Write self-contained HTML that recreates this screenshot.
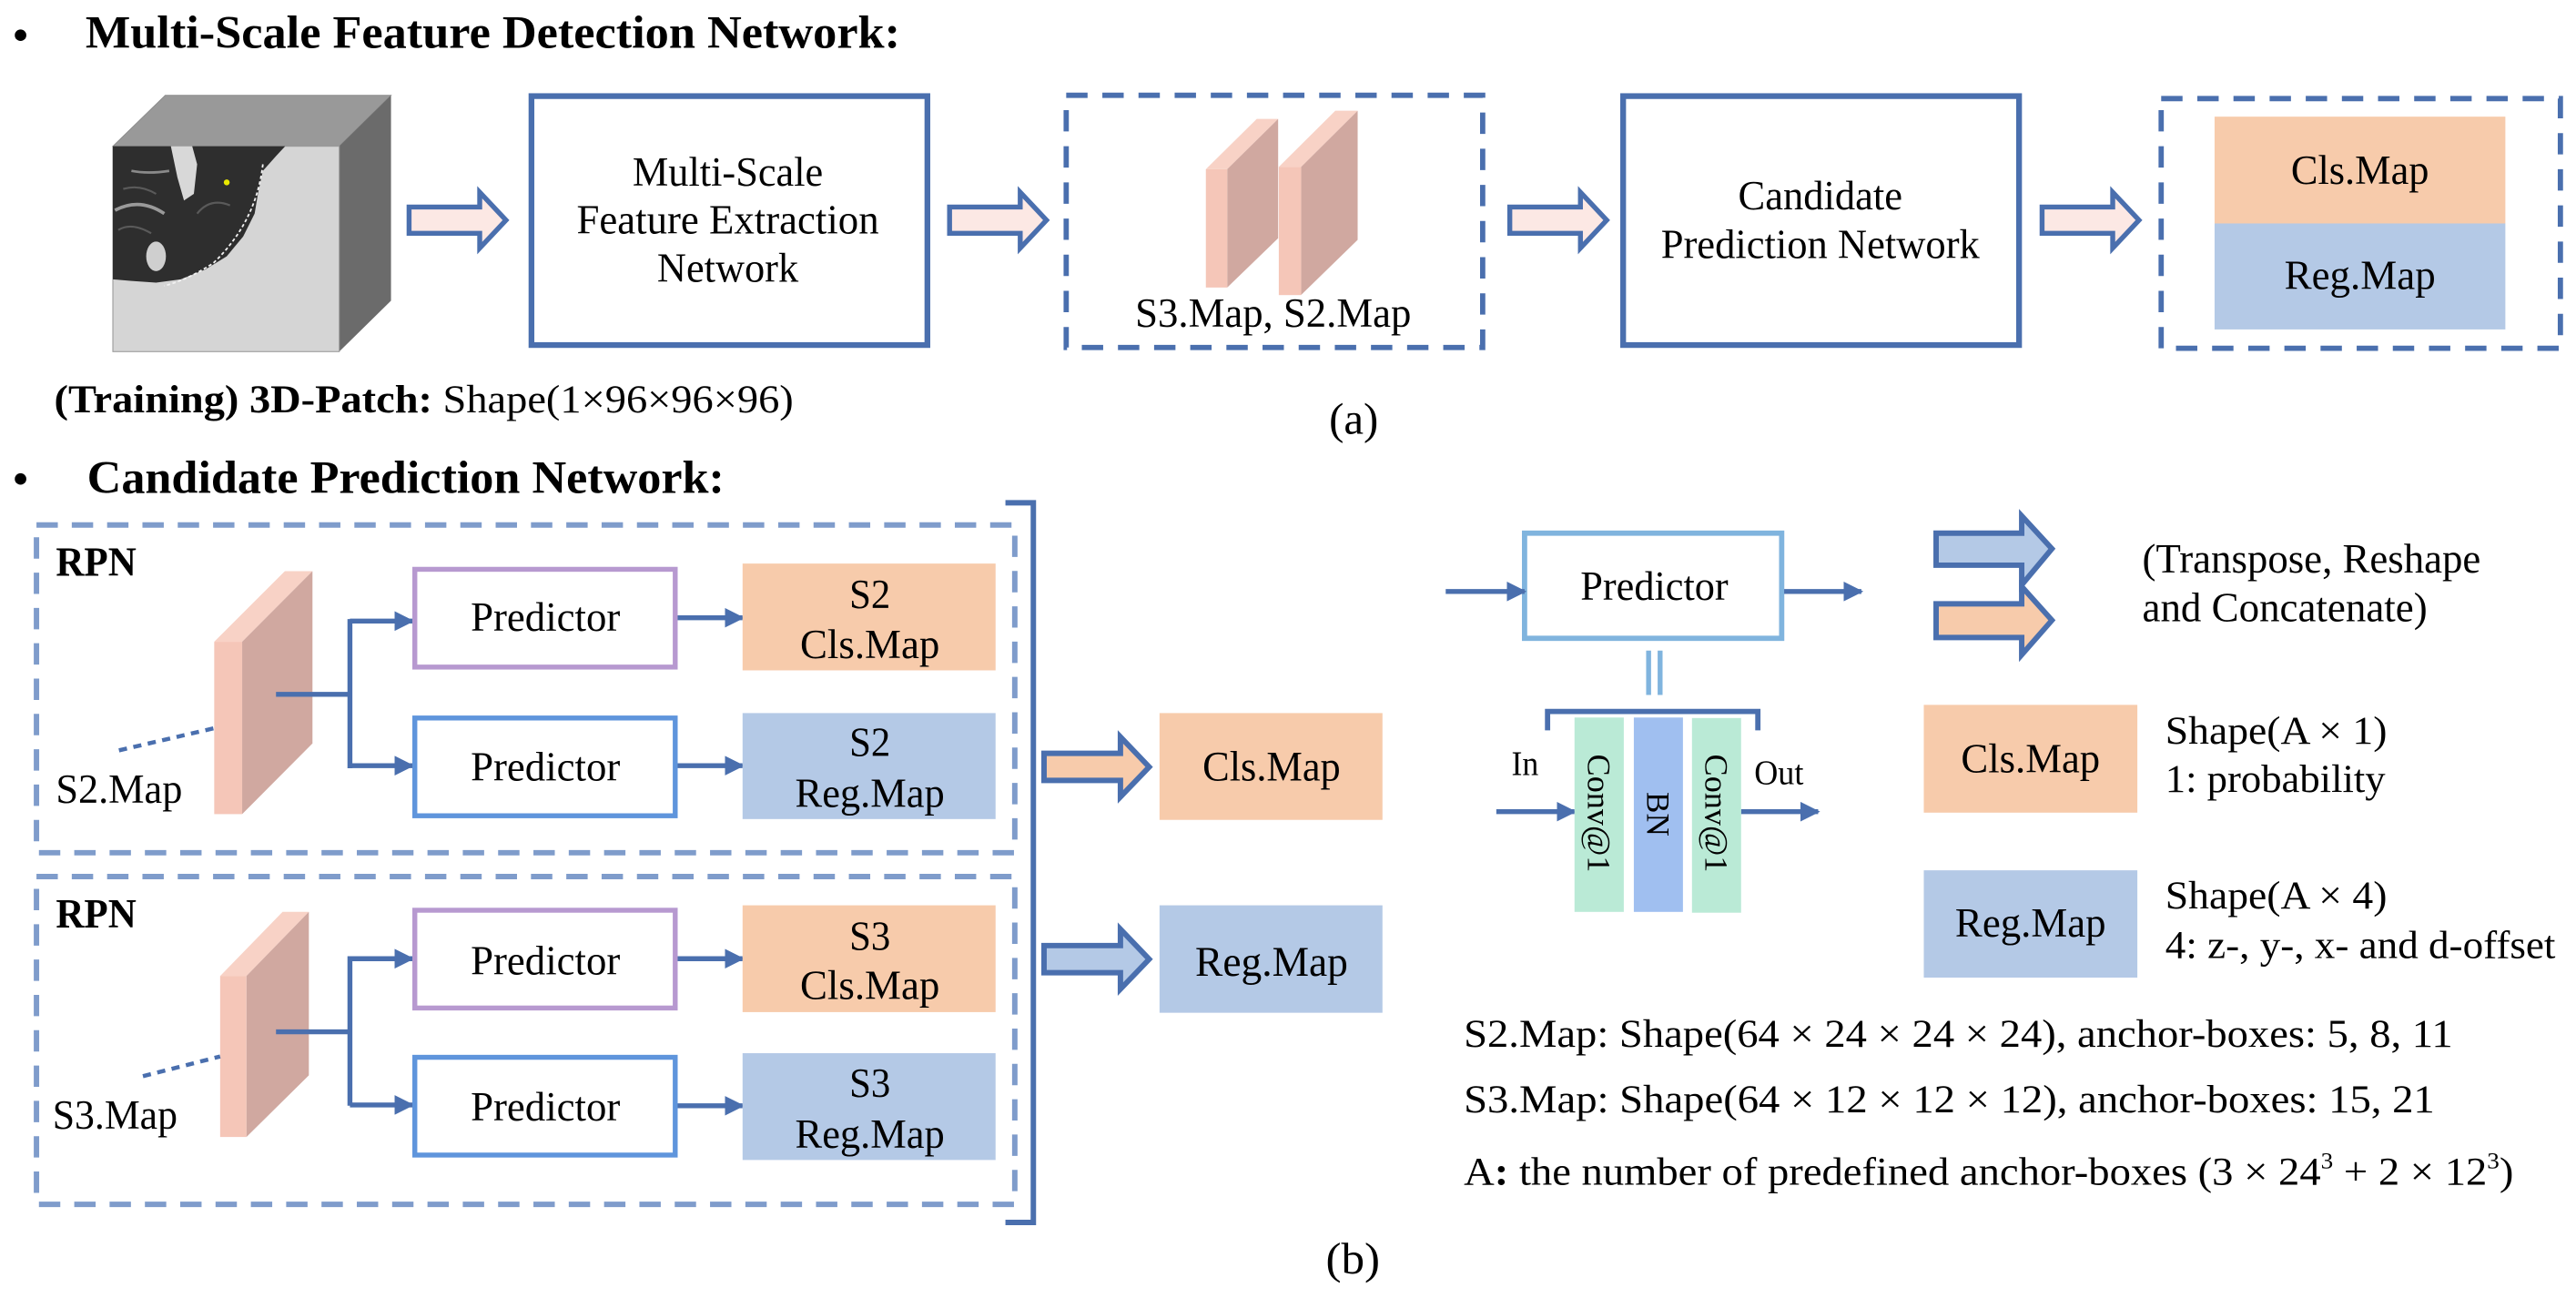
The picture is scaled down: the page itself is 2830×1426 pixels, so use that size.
<!DOCTYPE html>
<html><head><meta charset="utf-8"><style>
html,body{margin:0;padding:0;background:#fff;}
svg{display:block;}
svg, svg text{font-family:"Liberation Serif","Times New Roman",serif;}
.b{font-weight:bold;}
</style></head><body>
<svg width="2830" height="1426" viewBox="0 0 1568 790" preserveAspectRatio="none" xmlns="http://www.w3.org/2000/svg" font-family="'Liberation Serif', 'Times New Roman', serif">
<defs>
<marker id="ah" markerWidth="4" markerHeight="4" refX="3.6" refY="2" orient="auto" markerUnits="strokeWidth">
<path d="M0,0 L4,2 L0,4 z" fill="#4a6fae"/></marker>
</defs>
<g font-family="'Liberation Serif', 'Times New Roman', serif" fill="#000">

<!-- ===== (a) ===== -->
<text x="8" y="30" font-size="26" class="b">•</text>
<text x="52" y="29" font-size="28" class="b" textLength="496" lengthAdjust="spacingAndGlyphs">Multi-Scale Feature Detection Network:</text>

<!-- cube -->
<polygon points="68.7,89 100.6,58 238,58 206.5,89" fill="#999999" stroke="#8a8a8a" stroke-width="0.5"/>
<polygon points="206.5,89 238,58 238,183 206.5,214" fill="#6b6b6b"/>
<rect x="68.7" y="89" width="137.8" height="125" fill="#d5d5d5" stroke="#9a9a9a" stroke-width="0.6"/>
<path d="M68.7,89 L173.6,89 L168,95 L160,104 L157,118 L155,130 L148,144 L138,156 L125,164 L110,170 L95,172 L80,171 L68.7,170 Z" fill="#2e2e2e"/>
<path d="M104,89 L117,89 L120,100 L118,118 L112,122 L108,108 Z" fill="#d8d8d8"/>
<ellipse cx="95" cy="156" rx="6" ry="9" fill="#cfcfcf"/>
<path d="M70,128 Q85,120 100,130" stroke="#9a9a9a" stroke-width="2" fill="none"/>
<path d="M80,104 Q90,106 103,104" stroke="#8a8a8a" stroke-width="1.5" fill="none"/>
<path d="M72,140 Q80,135 92,142 M120,130 Q128,120 140,125 M75,115 Q85,112 95,118" stroke="#5a5a5a" stroke-width="1.2" fill="none"/>
<path d="M160,100 Q156,135 130,160 Q115,170 100,174" stroke="#f2f2f2" stroke-width="1" fill="none" stroke-dasharray="2 1.5"/>
<circle cx="138" cy="111" r="1.8" fill="#e8e800"/>

<g stroke="#4a6fae" stroke-width="3" fill="#fce8e4" stroke-linejoin="miter">
<polygon points="249,126 292,126 292,117 308,134 292,151 292,142 249,142"/>
<polygon points="578,126 621,126 621,117 637,134 621,151 621,142 578,142"/>
<polygon points="919,126 962,126 962,117 978,134 962,151 962,142 919,142"/>
<polygon points="1243,126 1286,126 1286,117 1302,134 1286,151 1286,142 1243,142"/>
</g>

<rect x="323.5" y="58.5" width="241" height="151.5" fill="#fff" stroke="#4a6fae" stroke-width="3.5"/>
<text x="443" y="113" font-size="25" text-anchor="middle" textLength="116" lengthAdjust="spacingAndGlyphs">Multi-Scale</text>
<text x="443" y="142" font-size="25" text-anchor="middle" textLength="184" lengthAdjust="spacingAndGlyphs">Feature Extraction</text>
<text x="443" y="171.5" font-size="25" text-anchor="middle" textLength="86" lengthAdjust="spacingAndGlyphs">Network</text>

<rect x="649" y="58" width="253.5" height="153.5" fill="none" stroke="#4a6fae" stroke-width="3.2" stroke-dasharray="13 9"/>
<polygon points="734,103 747,103 778,72.4 765,72.4" fill="#f8d2c6"/>
<polygon points="747,103 778,72.4 778,145 747,175" fill="#d0a8a0"/>
<rect x="734" y="103" width="13" height="72" fill="#f5c6b8"/>
<polygon points="778.4,101.6 792,101.6 826.4,67.4 812.8,67.4" fill="#f8d2c6"/>
<polygon points="792,101.6 826.4,67.4 826.4,146 792,179.5" fill="#d0a8a0"/>
<rect x="778.4" y="101.6" width="13.6" height="78" fill="#f5c6b8"/>
<text x="775" y="199" font-size="25" text-anchor="middle" textLength="168" lengthAdjust="spacingAndGlyphs">S3.Map, S2.Map</text>

<rect x="988" y="58.5" width="241" height="151.5" fill="#fff" stroke="#4a6fae" stroke-width="3.5"/>
<text x="1108" y="127.5" font-size="25" text-anchor="middle" textLength="100" lengthAdjust="spacingAndGlyphs">Candidate</text>
<text x="1108" y="157" font-size="25" text-anchor="middle" textLength="194" lengthAdjust="spacingAndGlyphs">Prediction Network</text>

<rect x="1315.5" y="60" width="243" height="152" fill="none" stroke="#4a6fae" stroke-width="3.2" stroke-dasharray="13 9"/>
<rect x="1348" y="71" width="177" height="65" fill="#f7cbab"/>
<rect x="1348" y="136" width="177" height="64.5" fill="#b4c9e6"/>
<text x="1436.5" y="112" font-size="25" text-anchor="middle" textLength="84" lengthAdjust="spacingAndGlyphs">Cls.Map</text>
<text x="1436.5" y="176" font-size="25" text-anchor="middle" textLength="92" lengthAdjust="spacingAndGlyphs">Reg.Map</text>

<text x="33" y="251" font-size="24" textLength="450" lengthAdjust="spacingAndGlyphs"><tspan class="b">(Training) 3D-Patch:</tspan> Shape(1×96×96×96)</text>
<text x="824" y="264" font-size="27" text-anchor="middle" textLength="30" lengthAdjust="spacingAndGlyphs">(a)</text>

<!-- ===== (b) ===== -->
<text x="8" y="300" font-size="26" class="b">•</text>
<text x="53" y="300" font-size="28" class="b" textLength="388" lengthAdjust="spacingAndGlyphs">Candidate Prediction Network:</text>

<polyline points="612,306 629,306 629,744 612,744" fill="none" stroke="#4a6fae" stroke-width="3.3"/>

<rect x="22.2" y="319.5" width="595.5" height="199.5" fill="none" stroke="#7f9ccb" stroke-width="3.3" stroke-dasharray="13 8.5"/>
<rect x="22.2" y="533.5" width="595.5" height="199.5" fill="none" stroke="#7f9ccb" stroke-width="3.3" stroke-dasharray="13 8.5"/>

<text x="34" y="350.5" font-size="25" class="b" textLength="49" lengthAdjust="spacingAndGlyphs">RPN</text>
<text x="34" y="564.5" font-size="25" class="b" textLength="49" lengthAdjust="spacingAndGlyphs">RPN</text>

<polygon points="130.4,390.6 147.4,390.6 190.2,347.6 173.4,347.6" fill="#f8d2c6"/>
<polygon points="147.4,390.6 190.2,347.6 190.2,452.5 147.4,495.5" fill="#d0a8a0"/>
<rect x="130.4" y="390.6" width="17" height="104.9" fill="#f5c6b8"/>
<line x1="72.4" y1="456.7" x2="130.4" y2="443.2" stroke="#4a6fae" stroke-width="2.5" stroke-dasharray="5 4"/>
<text x="34" y="488.5" font-size="25" textLength="77" lengthAdjust="spacingAndGlyphs">S2.Map</text>

<polygon points="134,594 150,594 188,555 172,555" fill="#f8d2c6"/>
<polygon points="150,594 188,555 188,654.5 150,692" fill="#d0a8a0"/>
<rect x="134" y="594" width="16" height="98" fill="#f5c6b8"/>
<line x1="87" y1="655" x2="134" y2="643" stroke="#4a6fae" stroke-width="2.5" stroke-dasharray="5 4"/>
<text x="32" y="687" font-size="25" textLength="76" lengthAdjust="spacingAndGlyphs">S3.Map</text>

<g stroke="#4a6fae" stroke-width="3" fill="none">
<polyline points="168,422.6 213,422.6"/>
<polyline points="213,376.8 213,467.6"/>
<line x1="213" y1="378" x2="251" y2="378" marker-end="url(#ah)"/>
<line x1="213" y1="466" x2="251" y2="466" marker-end="url(#ah)"/>
<line x1="412" y1="376" x2="452" y2="376" marker-end="url(#ah)"/>
<line x1="412" y1="466" x2="452" y2="466" marker-end="url(#ah)"/>
<polyline points="168,628 213,628"/>
<polyline points="213,582 213,673"/>
<line x1="213" y1="583.5" x2="251" y2="583.5" marker-end="url(#ah)"/>
<line x1="213" y1="672.5" x2="251" y2="672.5" marker-end="url(#ah)"/>
<line x1="412" y1="583.5" x2="452" y2="583.5" marker-end="url(#ah)"/>
<line x1="412" y1="673" x2="452" y2="673" marker-end="url(#ah)"/>
</g>

<rect x="252.5" y="346.5" width="158.5" height="59.5" fill="#fff" stroke="#b799d0" stroke-width="3"/>
<rect x="252.5" y="437" width="158.5" height="59.5" fill="#fff" stroke="#5f95dc" stroke-width="3"/>
<rect x="252.5" y="554" width="158.5" height="59.5" fill="#fff" stroke="#b799d0" stroke-width="3"/>
<rect x="252.5" y="643.5" width="158.5" height="59.5" fill="#fff" stroke="#5f95dc" stroke-width="3"/>
<text x="332" y="384" font-size="25" text-anchor="middle" textLength="91" lengthAdjust="spacingAndGlyphs">Predictor</text>
<text x="332" y="475" font-size="25" text-anchor="middle" textLength="91" lengthAdjust="spacingAndGlyphs">Predictor</text>
<text x="332" y="593" font-size="25" text-anchor="middle" textLength="91" lengthAdjust="spacingAndGlyphs">Predictor</text>
<text x="332" y="682" font-size="25" text-anchor="middle" textLength="91" lengthAdjust="spacingAndGlyphs">Predictor</text>

<rect x="452" y="343" width="154" height="65" fill="#f7cbab"/>
<rect x="452" y="434" width="154" height="64.5" fill="#b4c9e6"/>
<rect x="452" y="551" width="154" height="65" fill="#f7cbab"/>
<rect x="452" y="641" width="154" height="65" fill="#b4c9e6"/>
<g font-size="25" text-anchor="middle">
<text x="529.5" y="370" textLength="25" lengthAdjust="spacingAndGlyphs">S2</text>
<text x="529.5" y="400.5" textLength="85" lengthAdjust="spacingAndGlyphs">Cls.Map</text>
<text x="529.5" y="460" textLength="25" lengthAdjust="spacingAndGlyphs">S2</text>
<text x="529.5" y="491" textLength="91" lengthAdjust="spacingAndGlyphs">Reg.Map</text>
<text x="529.5" y="578" textLength="25" lengthAdjust="spacingAndGlyphs">S3</text>
<text x="529.5" y="608" textLength="85" lengthAdjust="spacingAndGlyphs">Cls.Map</text>
<text x="529.5" y="667.5" textLength="25" lengthAdjust="spacingAndGlyphs">S3</text>
<text x="529.5" y="698.5" textLength="91" lengthAdjust="spacingAndGlyphs">Reg.Map</text>
</g>

<g stroke="#4a6fae" stroke-width="3.3" stroke-linejoin="miter">
<polygon points="635.5,458.5 682,458.5 682,448.5 699.5,466.8 682,485 682,475 635.5,475" fill="#f7cbab"/>
<polygon points="635.5,575.5 682,575.5 682,565.5 699.5,583.8 682,602 682,592 635.5,592" fill="#b4c9e6"/>
</g>
<rect x="705.8" y="434" width="135.7" height="65" fill="#f7cbab"/>
<rect x="705.8" y="551" width="135.7" height="65.4" fill="#b4c9e6"/>
<text x="774" y="475" font-size="26" text-anchor="middle" textLength="84" lengthAdjust="spacingAndGlyphs">Cls.Map</text>
<text x="774" y="594" font-size="26" text-anchor="middle" textLength="93" lengthAdjust="spacingAndGlyphs">Reg.Map</text>

<text x="823.5" y="775" font-size="27" text-anchor="middle" textLength="33" lengthAdjust="spacingAndGlyphs">(b)</text>

<rect x="928" y="324.5" width="156.5" height="64" fill="#fff" stroke="#80b4de" stroke-width="3.2"/>
<text x="1007" y="365" font-size="25" text-anchor="middle" textLength="90" lengthAdjust="spacingAndGlyphs">Predictor</text>
<g stroke="#4a6fae" stroke-width="3" fill="none">
<line x1="880" y1="360" x2="928" y2="360" marker-end="url(#ah)"/>
<line x1="1086" y1="360" x2="1133" y2="360" marker-end="url(#ah)"/>
<line x1="910.8" y1="494" x2="958.4" y2="494" marker-end="url(#ah)"/>
<line x1="1059.8" y1="494" x2="1106.7" y2="494" marker-end="url(#ah)"/>
<polyline points="942,444.5 942,433 1070,433 1070,444.5" stroke-width="3.2"/>
</g>
<line x1="1003.5" y1="396" x2="1003.5" y2="423" stroke="#80b4de" stroke-width="3"/>
<line x1="1010.5" y1="396" x2="1010.5" y2="423" stroke="#80b4de" stroke-width="3"/>
<rect x="958.4" y="436.7" width="30" height="118.3" fill="#baead6"/>
<rect x="994.5" y="436.7" width="29.9" height="118.3" fill="#a0bff0"/>
<rect x="1029.9" y="437" width="29.9" height="118.5" fill="#baead6"/>
<text font-size="20" text-anchor="middle" transform="translate(966.5,495) rotate(90)" textLength="72" lengthAdjust="spacingAndGlyphs">Conv@1</text>
<text font-size="20" text-anchor="middle" transform="translate(1002.5,495.5) rotate(90)" textLength="27" lengthAdjust="spacingAndGlyphs">BN</text>
<text font-size="20" text-anchor="middle" transform="translate(1038,495) rotate(90)" textLength="72" lengthAdjust="spacingAndGlyphs">Conv@1</text>
<text x="920" y="471.8" font-size="21" textLength="16.5" lengthAdjust="spacingAndGlyphs">In</text>
<text x="1067.8" y="477.3" font-size="21" textLength="30" lengthAdjust="spacingAndGlyphs">Out</text>

<g stroke="#4a6fae" stroke-width="3.3" stroke-linejoin="miter">
<polygon points="1178.5,324.5 1230.6,324.5 1230.6,314 1249,334 1230.6,356 1230.6,344 1178.5,344" fill="#b4c9e6"/>
<polygon points="1178.5,367.5 1230.6,367.5 1230.6,357 1249,377.5 1230.6,398.5 1230.6,388 1178.5,388" fill="#f7cbab"/>
</g>
<text x="1304" y="348.5" font-size="25" textLength="206" lengthAdjust="spacingAndGlyphs">(Transpose, Reshape</text>
<text x="1304" y="378" font-size="25" textLength="173.5" lengthAdjust="spacingAndGlyphs">and Concatenate)</text>

<rect x="1171" y="429" width="130" height="65.6" fill="#f7cbab"/>
<rect x="1171" y="529.7" width="130" height="65.3" fill="#b4c9e6"/>
<text x="1236" y="470" font-size="25" text-anchor="middle" textLength="84.6" lengthAdjust="spacingAndGlyphs">Cls.Map</text>
<text x="1236" y="570" font-size="25" text-anchor="middle" textLength="91.8" lengthAdjust="spacingAndGlyphs">Reg.Map</text>
<text x="1318" y="452.5" font-size="24" textLength="135" lengthAdjust="spacingAndGlyphs">Shape(A × 1)</text>
<text x="1318" y="482" font-size="24" textLength="134" lengthAdjust="spacingAndGlyphs">1: probability</text>
<text x="1318" y="553" font-size="24" textLength="135" lengthAdjust="spacingAndGlyphs">Shape(A × 4)</text>
<text x="1318" y="583" font-size="24" textLength="237.5" lengthAdjust="spacingAndGlyphs">4: z-, y-, x- and d-offset</text>

<text x="891" y="637" font-size="24" textLength="602" lengthAdjust="spacingAndGlyphs">S2.Map: Shape(64 × 24 × 24 × 24), anchor-boxes: 5, 8, 11</text>
<text x="891" y="677" font-size="24" textLength="591" lengthAdjust="spacingAndGlyphs">S3.Map: Shape(64 × 12 × 12 × 12), anchor-boxes: 15, 21</text>
<text x="891" y="721" font-size="24" textLength="639" lengthAdjust="spacingAndGlyphs">A<tspan class="b">:</tspan> the number of predefined anchor-boxes (3 × 24<tspan font-size="14" dy="-10">3</tspan><tspan dy="10"> + 2 × 12</tspan><tspan font-size="14" dy="-10">3</tspan><tspan dy="10">)</tspan></text>
</g>
</svg>
</body></html>
